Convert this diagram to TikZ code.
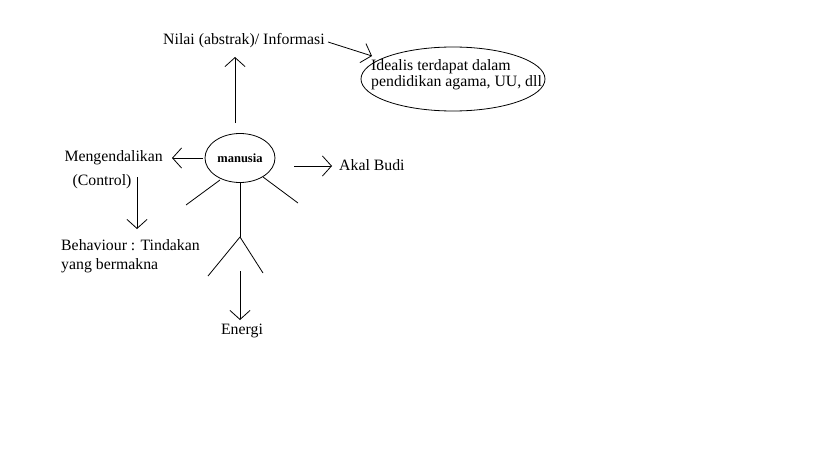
\documentclass[tikz,border=0pt]{standalone}
\usepackage{fontspec}
\setmainfont{Liberation Serif}
\usetikzlibrary{arrows.meta,shapes.geometric}
\begin{document}
\begin{tikzpicture}[x=1pt,y=-1pt,
  lbl/.style={inner sep=0pt,font=\fontsize{15.8}{16}\selectfont},
  arr/.style={draw,line width=0.8pt,-{Straight Barb[length=9pt,width=20pt,line width=0.8pt]}},
  ln/.style={draw,line width=0.8pt}]
\useasboundingbox (0,0) rectangle (819,460);
\node[lbl,anchor=west] (nilai) at (163,41) {Nilai (abstrak)/ Informasi};
\node[draw,ellipse,line width=0.8pt,minimum width=184pt,minimum height=64pt,inner sep=0pt] (ideal) at (453,79) {};
\node[lbl,anchor=west,align=left] (idealt) at (371,75) {Idealis terdapat dalam\\pendidikan agama, UU, dll};
\node[draw,ellipse,line width=0.8pt,minimum width=70pt,minimum height=49pt,inner sep=0pt,font=\fontsize{12.5}{14}\selectfont\bfseries] (man) at (240,158) {manusia};
\node[lbl,anchor=east] (meng) at (163,158) {Mengendalikan};
\node[lbl] (ctrl) at (102,182) {(Control)};
\node[lbl,anchor=west,align=left] (beh) at (61,256) {Behaviour : Tindakan\\[3pt]yang bermakna};
\node[lbl,anchor=west] (akal) at (339,165) {Akal Budi};
\node[lbl] (energi) at (242,331) {Energi};
\coordinate (upS) at (235,123); \coordinate (upE) at (235,57);
\coordinate (nS) at (328,42); \coordinate (nE) at (372,56);
\coordinate (lS) at (203,158); \coordinate (lE) at (172,158);
\coordinate (dS) at (137,177); \coordinate (dE) at (137,229);
\coordinate (rS) at (294,166); \coordinate (rE) at (332,166);
\coordinate (eS) at (240,271); \coordinate (eE) at (240,320);
\coordinate (hip) at (240,237);
\draw[arr] (upS) -- (upE);
\draw[arr] (nS) -- (nE);
\draw[arr] (lS) -- (lE);
\draw[arr] (dS) -- (dE);
\draw[arr] (rS) -- (rE);
\draw[arr] (eS) -- (eE);
\draw[ln] (220,180) -- (186,205);
\draw[ln] (263,177) -- (298,203);
\draw[ln] (240,183) -- (hip);
\draw[ln] (hip) -- (208,276);
\draw[ln] (hip) -- (263,273);
\end{tikzpicture}
\end{document}
